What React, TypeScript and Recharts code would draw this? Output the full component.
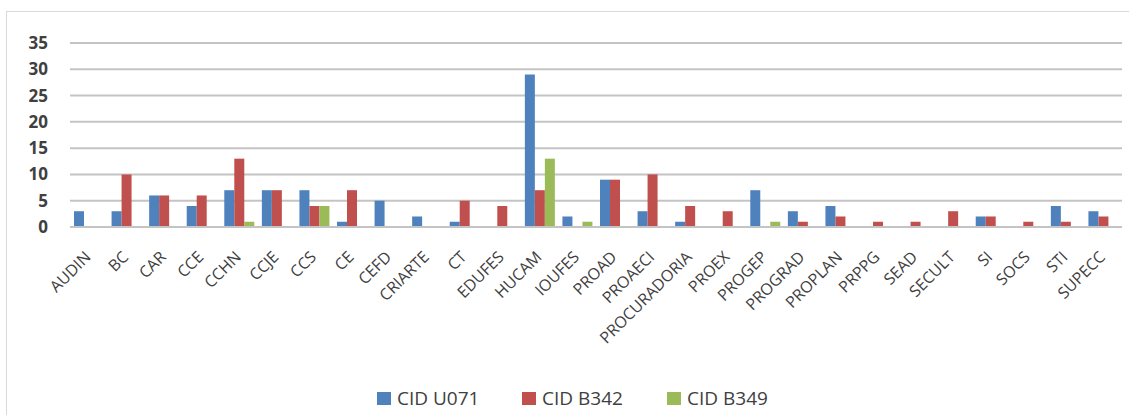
import { BarChart, Bar, XAxis, YAxis, CartesianGrid, Legend } from 'recharts'

const categories = [
  'AUDIN', 'BC', 'CAR', 'CCE', 'CCHN', 'CCJE', 'CCS', 'CE', 'CEFD', 'CRIARTE',
  'CT', 'EDUFES', 'HUCAM', 'IOUFES', 'PROAD', 'PROAECI', 'PROCURADORIA', 'PROEX',
  'PROGEP', 'PROGRAD', 'PROPLAN', 'PRPPG', 'SEAD', 'SECULT', 'SI', 'SOCS', 'STI', 'SUPECC',
]

const cidU071 = [3, 3, 6, 4, 7, 7, 7, 1, 5, 2, 1, 0, 29, 2, 9, 3, 1, 0, 7, 3, 4, 0, 0, 0, 2, 0, 4, 3]
const cidB342 = [0, 10, 6, 6, 13, 7, 4, 7, 0, 0, 5, 4, 7, 0, 9, 10, 4, 3, 0, 1, 2, 1, 1, 3, 2, 1, 1, 2]
const cidB349 = [0, 0, 0, 0, 1, 0, 4, 0, 0, 0, 0, 0, 13, 1, 0, 0, 0, 0, 1, 0, 0, 0, 0, 0, 0, 0, 0, 0]

const yTicks = [0, 5, 10, 15, 20, 25, 30, 35]

const series = [
  { key: 'u071', name: 'CID U071', color: '#4F81BD' },
  { key: 'b342', name: 'CID B342', color: '#C0504D' },
  { key: 'b349', name: 'CID B349', color: '#9BBB59' },
]

const data = categories.map((name, i) => ({
  name,
  u071: cidU071[i],
  b342: cidB342[i],
  b349: cidB349[i],
}))

const FONT = '"Open Sans", sans-serif'

// rotated category labels, right end near the tick
function CategoryTick({ x, y, payload }: any) {
  return (
    <g transform={`translate(${x + 3},${y + 31})`}>
      <text
        transform="rotate(-45)"
        textAnchor="end"
        fontFamily={FONT}
        fontSize={16}
        fill="#404040"
      >
        {payload.value}
      </text>
    </g>
  )
}

// keep series order (recharts sorts legend items by default)
function LegendRow({ payload }: any) {
  const items = series.map((s) => (payload || []).find((p: any) => p.value === s.name) || { value: s.name, color: s.color })
  return (
    <div style={{ display: 'flex', fontFamily: FONT, fontSize: 19, color: '#404040' }}>
      {items.map((p: any) => (
        <div key={p.value} style={{ display: 'flex', alignItems: 'center', width: 145 }}>
          <span style={{ width: 14, height: 13, background: p.color, marginRight: 6 }} />
          <span>{p.value}</span>
        </div>
      ))}
    </div>
  )
}

export default function App() {
  return (
    <div
      style={{
        position: 'absolute',
        left: 0,
        top: 0,
        width: 1129,
        height: 415,
        background: '#fff',
        overflow: 'hidden',
      }}
    >
      <div
        style={{
          position: 'absolute',
          left: 6,
          top: 11,
          width: 1200,
          height: 500,
          border: '1px solid #d9d9d9',
        }}
      />
      <div style={{ position: 'absolute', left: 0, top: 0 }}>
        <BarChart
          width={1129}
          height={415}
          data={data}
          margin={{ top: 43, right: 7, left: 10, bottom: 68 }}
          barCategoryGap={4}
          barGap={0}
        >
          <CartesianGrid vertical={false} stroke="#c4c4c4" strokeWidth={2} />
          <XAxis
            dataKey="name"
            interval={0}
            height={120}
            tickLine={false}
            tickSize={0}
            tickMargin={0}
            axisLine={{ stroke: '#c4c4c4', strokeWidth: 2 }}
            tick={<CategoryTick />}
          />
          <YAxis
            width={60}
            domain={[0, 35]}
            ticks={yTicks}
            axisLine={false}
            tickLine={false}
            tickSize={6}
            tickMargin={16}
            tick={{ fontFamily: FONT, fontSize: 17, fontWeight: 'bold', fill: '#404040' }}
          />
          <Legend
            layout="horizontal"
            verticalAlign="middle"
            align="center"
            wrapperStyle={{ top: 385, left: 377, width: 'auto' }}
            content={<LegendRow />}
          />
          {series.map((s) => (
            <Bar key={s.key} dataKey={s.key} name={s.name} fill={s.color} isAnimationActive={false} />
          ))}
        </BarChart>
      </div>
    </div>
  )
}
